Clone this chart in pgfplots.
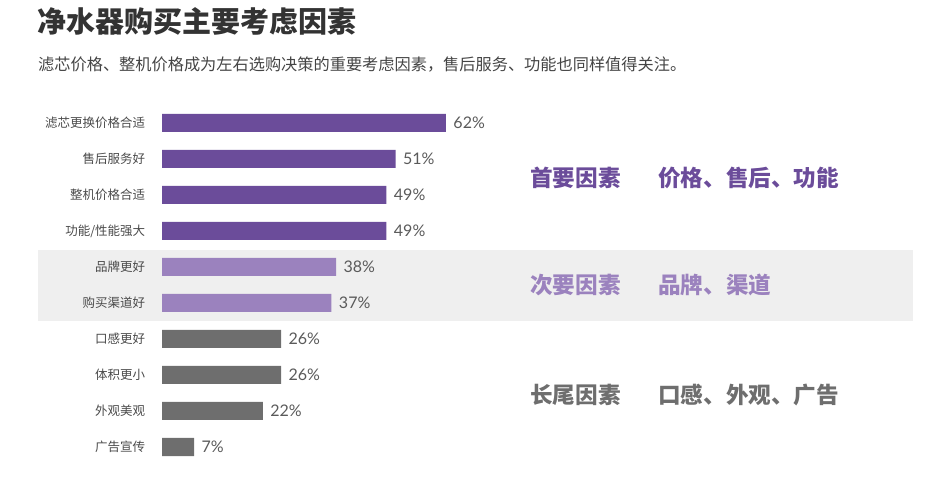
\documentclass[border=0pt]{standalone}
\usepackage{fontspec}
\usepackage{pgfplots}
\usepackage{pgfplotstable}
\pgfplotsset{compat=1.18}
\setmainfont{Lato}
\newfontfamily\cjk{Noto Sans CJK SC}
\newfontfamily\lato{Lato}
\definecolor{dpurple}{HTML}{6B4C9A}
\definecolor{lpurple}{HTML}{9B82BE}
\definecolor{dgray}{HTML}{6E6E6E}
\definecolor{band}{HTML}{EFEFEF}
\definecolor{titlec}{HTML}{333333}
\definecolor{subc}{HTML}{444444}
\definecolor{labc}{HTML}{4A4A4A}
\definecolor{valc}{HTML}{5A5A5A}

\pgfplotstableread{
y x
0 62
1 51
2 49
3 49
}\primary
\pgfplotstableread{
y x
4 38
5 37
}\secondary
\pgfplotstableread{
y x
6 26
7 26
8 22
9 7
}\tail

\begin{document}
\begin{tikzpicture}[x=1bp,y=1bp]
\path[use as bounding box] (0,0) rectangle (944,488);
\fill[band] (38,167) rectangle (913,238);
\node[anchor=west, inner sep=0, text=titlec] at (37,467) {\cjk\bfseries\fontsize{29bp}{32bp}\selectfont 净水器购买主要考虑因素};
\node[anchor=west, inner sep=0, text=subc] at (38,423) {\cjk\fontsize{16.2bp}{19bp}\selectfont 滤芯价格、整机价格成为左右选购决策的重要考虑因素，售后服务、功能也同样值得关注。};
\begin{axis}[
  at={(162bp,23bp)}, anchor=south west,
  scale only axis, width=458bp, height=360bp,
  xmin=0, xmax=100, ymin=-0.5, ymax=9.5,
  y dir=reverse,
  clip=false,
  axis line style={draw=none},
  tick style={draw=none},
  xtick=\empty,
  ytick={0,...,9},
  yticklabels={滤芯更换价格合适,售后服务好,整机价格合适,功能/性能强大,品牌更好,购买渠道好,口感更好,体积更小,外观美观,广告宣传},
  yticklabel style={font=\cjk\fontsize{12.5bp}{14bp}\selectfont, text=labc, xshift=-9bp},
  xbar, bar width=18bp, bar shift=0pt,
  point meta=x,
  /pgf/number format/assume math mode=true,
  nodes near coords={\pgfmathprintnumber{\pgfplotspointmeta}\%},
  nodes near coords style={anchor=west, font=\lato\fontsize{16bp}{18bp}\selectfont, text=valc, xshift=4bp},
]
\addplot[fill=dpurple, draw=none] table[x=x,y=y] {\primary};
\addplot[fill=lpurple, draw=none] table[x=x,y=y] {\secondary};
\addplot[fill=dgray, draw=none] table[x=x,y=y] {\tail};
\end{axis}
\node[anchor=west, inner sep=0, text=dpurple] at (530,310) {\cjk\bfseries\fontsize{22.6bp}{24bp}\selectfont 首要因素};
\node[anchor=west, inner sep=0, text=dpurple] at (658,310) {\cjk\bfseries\fontsize{22.6bp}{24bp}\selectfont 价格、售后、功能};
\node[anchor=west, inner sep=0, text=lpurple] at (530,203) {\cjk\bfseries\fontsize{22.6bp}{24bp}\selectfont 次要因素};
\node[anchor=west, inner sep=0, text=lpurple] at (658,203) {\cjk\bfseries\fontsize{22.6bp}{24bp}\selectfont 品牌、渠道};
\node[anchor=west, inner sep=0, text=dgray] at (530,93) {\cjk\bfseries\fontsize{22.6bp}{24bp}\selectfont 长尾因素};
\node[anchor=west, inner sep=0, text=dgray] at (658,93) {\cjk\bfseries\fontsize{22.6bp}{24bp}\selectfont 口感、外观、广告};
\end{tikzpicture}
\end{document}
